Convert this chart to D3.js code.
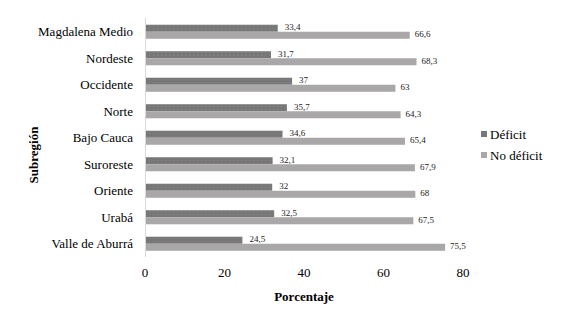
<!DOCTYPE html>
<html><head><meta charset="utf-8">
<script src="https://cdn.jsdelivr.net/npm/d3@7"></script>
<style>body{margin:0;background:#fff}svg{display:block}text{font-family:"Liberation Serif","DejaVu Serif","Times New Roman",serif}</style>
</head><body>
<script>
const categories = ["Magdalena Medio","Nordeste","Occidente","Norte","Bajo Cauca","Suroreste","Oriente","Urabá","Valle de Aburrá"];
const deficit = [33.4,31.7,37,35.7,34.6,32.1,32,32.5,24.5];
const noDeficit = [66.6,68.3,63,64.3,65.4,67.9,68,67.5,75.5];
const seriesNames = ["Déficit","No déficit"];
const xTicks = [0,20,40,60,80];

const W=573,H=312;
const svg=d3.select("body").append("svg").attr("width",W).attr("height",H);
const colors=["#777777","#a9a7a7"];

const x=d3.scaleLinear().domain([0,80]).range([145,463]);
const y=d3.scaleBand().domain(categories).range([18.5,257]).paddingInner(0.47).paddingOuter(0.235);
const sub=d3.scaleBand().domain([0,1]).range([0,y.bandwidth()]);

const defs=svg.append("defs");
const pat=defs.append("pattern").attr("id","dots").attr("width",4).attr("height",3).attr("patternUnits","userSpaceOnUse");
pat.append("rect").attr("width",4).attr("height",3).attr("fill",colors[0]);
pat.append("rect").attr("x",1).attr("y",1).attr("width",1).attr("height",1).attr("fill","#888");

svg.append("line").attr("x1",x(0)+0.5).attr("x2",x(0)+0.5).attr("y1",18).attr("y2",257).attr("stroke","#d9d9d9").attr("stroke-width",1);

const data=categories.map((c,i)=>({c,v:[deficit[i],noDeficit[i]]}));
const fmt=v=>String(v).replace(".",",");

const g=svg.append("g");
data.forEach(d=>{
  d.v.forEach((v,k)=>{
    const yy=y(d.c)+sub(k);
    g.append("rect").attr("x",x(0)+1).attr("y",yy).attr("width",x(v)-x(0)-1).attr("height",sub.bandwidth())
      .attr("fill",k===0?"url(#dots)":colors[1]);
    g.append("text").attr("x",x(v)+(k===0?7:5)).attr("y",yy+sub.bandwidth()/2-1).attr("dy","0.35em")
      .attr("font-size",9).attr("fill","#222").text(fmt(v));
  });
});

svg.selectAll(".cat").data(categories).enter().append("text")
  .attr("x",133).attr("y",d=>y(d)+y.bandwidth()/2).attr("dy","0.35em").attr("text-anchor","end")
  .attr("font-size",13).attr("fill","#000").text(d=>d);

svg.selectAll(".xt").data(xTicks).enter().append("text")
  .attr("x",d=>x(d)).attr("y",272).attr("dy","0.35em").attr("text-anchor","middle")
  .attr("font-size",13).attr("fill","#000").text(d=>d);

svg.append("text").attr("x",304).attr("y",296).attr("dy","0.35em").attr("text-anchor","middle")
  .attr("font-size",13).attr("font-weight","bold").text("Porcentaje");
svg.append("text").attr("transform","translate(33,155) rotate(-90)").attr("dy","0.35em").attr("text-anchor","middle")
  .attr("font-size",13).attr("font-weight","bold").text("Subregión");

seriesNames.forEach((s,i)=>{
  const ly=134+i*21;
  svg.append("rect").attr("x",481).attr("y",ly-3).attr("width",6).attr("height",6).attr("fill",colors[i]);
  svg.append("text").attr("x",490).attr("y",ly).attr("dy","0.35em").attr("font-size",13).text(s);
});
</script>
</body></html>
